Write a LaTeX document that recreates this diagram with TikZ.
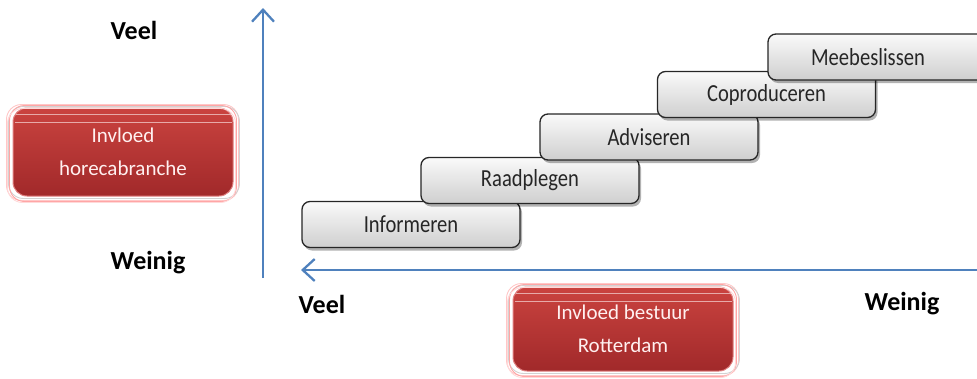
\documentclass[tikz,border=0pt]{standalone}
\usepackage{fontspec}
\setmainfont{Carlito}
\newfontfamily\narrowfont[FakeStretch=0.84]{Carlito}
\usetikzlibrary{shadows,arrows.meta}
\definecolor{axisblue}{HTML}{4F81BD}
\definecolor{redtop}{HTML}{CA433F}
\definecolor{redbot}{HTML}{A1292A}
\definecolor{redline}{HTML}{E08080}
\begin{document}
\begin{tikzpicture}[x=1pt,y=-1pt,
  stepbox/.style={draw=black!85, line width=1.3pt, rounded corners=8pt,
    top color=gray!4, bottom color=gray!38, minimum width=218pt, minimum height=46pt,
    inner sep=0pt, font=\narrowfont\fontsize{24.5}{28}\selectfont, text=black!85,
    drop shadow={shadow xshift=2pt, shadow yshift=-3pt, opacity=0.3, fill=black}},
  redbox/.style={draw=redline, line width=1pt, rounded corners=14pt,
    top color=redtop, bottom color=redbot, inner sep=0pt,
    font=\fontsize{21}{33}\selectfont, text=white!94!red, align=center},
  ghost/.style={draw=#1, line width=0.9pt, rounded corners=15pt},
  hilite/.style={draw=white!55!redtop, line width=0.8pt},
  lbl/.style={font=\bfseries\fontsize{26}{30}\selectfont, text=black, inner sep=0pt},
  axis/.style={draw=axisblue, line width=2.3pt, -{Straight Barb[length=12pt,width=22pt,line width=2.3pt]}}
]
\useasboundingbox (0,0) rectangle (977,378);
\clip (0,0) rectangle (977,378);

% axes
\coordinate (vbot) at (263,278);
\coordinate (vtop) at (263,8);
\coordinate (hright) at (980,270);
\coordinate (hleft) at (301,270);
\draw[axis] (vbot) -- (vtop);
\draw[axis] (hright) -- (hleft);

% labels
\node[lbl] (veelL) at (134,30) {Veel};
\node[lbl] (weinigL) at (148,263) {Weinig};
\node[lbl] (veelB) at (322,304) {Veel};
\node[lbl] (weinigB) at (902,304) {Weinig};

% steps
\node[stepbox] (s1) at (411,224.5) {Informeren};
\node[stepbox] (s2) at (530,180.5) {Raadplegen};
\node[stepbox] (s3) at (649,137) {Adviseren};
\node[stepbox] (s4) at (766.5,94.5) {Coproduceren};
\node[stepbox] (s5) at (877,57) {\hspace*{-9pt}Meebeslissen\hspace*{9pt}};

% red boxes
\foreach \r/\cx/\cy/\h/\txt in {hb/123/152/88/{Invloed\\horecabranche}, br/623/329/84/{Invloed bestuur\\Rotterdam}}{
  \node[redbox, minimum width=220pt, minimum height=\h pt] (\r) at (\cx,\cy) {\txt};
  \draw[ghost=red!22] ([shift={(-6,-3)}]\r.north west) rectangle ([shift={(5,4)}]\r.south east);
  \draw[ghost=gray!35] ([shift={(-4,-1)}]\r.north west) rectangle ([shift={(6,2)}]\r.south east);
  \draw[ghost=red!35] ([shift={(-3,-2)}]\r.north west) rectangle ([shift={(3,5)}]\r.south east);
  \draw[ghost=red!15] ([shift={(-5,1)}]\r.north west) rectangle ([shift={(2,6)}]\r.south east);
  \draw[hilite] ([shift={(3,7)}]\r.north west) -- ([shift={(-3,7)}]\r.north east);
  \draw[hilite] ([shift={(2,15)}]\r.north west) -- ([shift={(-2,15)}]\r.north east);
}
\end{tikzpicture}
\end{document}
